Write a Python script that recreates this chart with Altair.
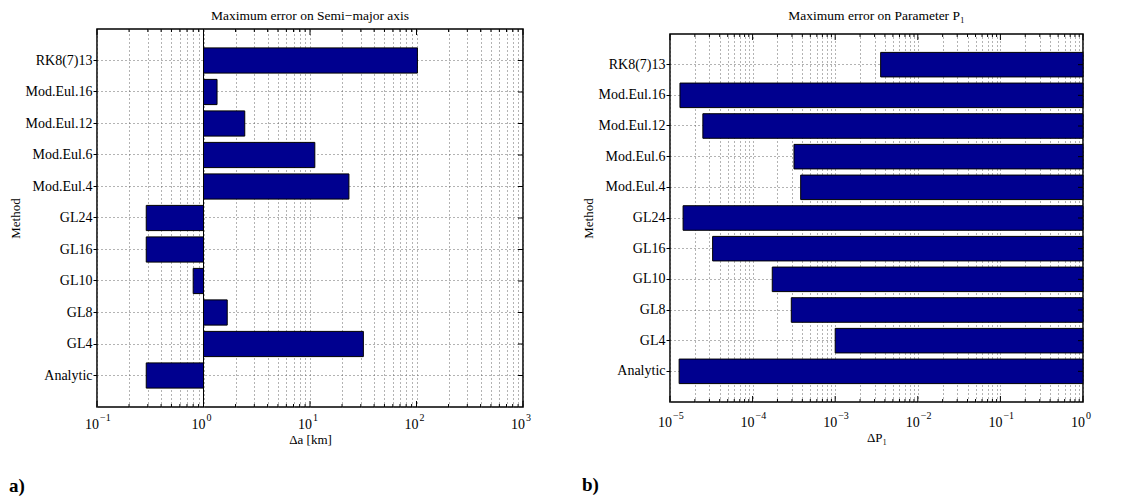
import altair as alt
import pandas as pd

# ---------------- data ----------------
methods_top_to_bottom = ["RK8(7)13", "Mod.Eul.16", "Mod.Eul.12", "Mod.Eul.6", "Mod.Eul.4",
                         "GL24", "GL16", "GL10", "GL8", "GL4", "Analytic"]
methods = ["Analytic", "GL4", "GL8", "GL10", "GL16", "GL24",
           "Mod.Eul.4", "Mod.Eul.6", "Mod.Eul.12", "Mod.Eul.16", "RK8(7)13"]
delta_a_km = [0.29, 31.7, 1.67, 0.80, 0.29, 0.29, 23.2, 11.1, 2.44, 1.34, 102.0]
delta_p1 = [1.29e-5, 1.0e-3, 2.94e-4, 1.73e-4, 3.28e-5, 1.44e-5,
            3.82e-4, 3.17e-4, 2.5e-5, 1.32e-5, 3.55e-3]
left_decades = [-1, 0, 1, 2, 3]
right_decades = [-5, -4, -3, -2, -1, 0]
bar_base = 1.0

FONT = "Liberation Serif"
BAR = "#00008f"


def panel(values, decades, title, xtitle, W, H, letter, letter_y, title_offset,
          label_off, xtitle_pad, baseline_rule):
    df = pd.DataFrame({"method": methods, "value": values, "base": bar_base})
    lo, hi = float(f"1e{decades[0]}"), float(f"1e{decades[-1]}")
    majors = [float(f"1e{e}") for e in decades]
    minors = [float(f"{k}e{e}") for e in decades[:-1] for k in range(2, 10)]
    grid_vals = sorted(majors + minors)
    xscale = alt.Scale(type="log", domain=[lo, hi], nice=False)
    yscale = alt.Scale(domain=methods_top_to_bottom, paddingInner=0.2, paddingOuter=0.6)

    xaxis = alt.Axis(values=grid_vals, labels=False, title=xtitle,
                     grid=True, gridDash=[1, 3], gridColor="#666", gridWidth=1,
                     ticks=False, domain=False,
                     titleFont=FONT, titleFontSize=13, titleFontWeight="normal",
                     titleColor="black", titlePadding=xtitle_pad)
    yaxis = alt.Axis(title="Method", grid=True, bandPosition=0.5,
                     gridDash=[1, 3], gridColor="#666", domain=False,
                     ticks=True, tickSize=4, tickColor="black", labelPadding=1,
                     labelFont=FONT, labelFontSize=14, labelColor="black",
                     titleFont=FONT, titleFontSize=13, titleFontWeight="normal",
                     titleColor="black", titlePadding=3)

    bars = alt.Chart(df).mark_bar(color=BAR, stroke="black", strokeWidth=1).encode(
        x=alt.X("value:Q", scale=xscale, axis=xaxis),
        x2="base:Q",
        y=alt.Y("method:N", scale=yscale, sort=methods_top_to_bottom, axis=yaxis),
    )
    layers = [bars]
    if baseline_rule:
        layers.append(alt.Chart(pd.DataFrame({"value": [bar_base]})).mark_rule(
            color="black", strokeWidth=1).encode(
            x=alt.X("value:Q", scale=xscale)))

    tick_major = pd.DataFrame({"value": majors})
    tick_minor = pd.DataFrame({"value": minors})
    for tdf, size in ((tick_major, 6), (tick_minor, 3)):
        layers.append(alt.Chart(tdf).mark_rule(color="black", strokeWidth=1).encode(
            x=alt.X("value:Q", scale=xscale),
            y=alt.value(H), y2=alt.value(H - size)))
        layers.append(alt.Chart(tdf).mark_rule(color="black", strokeWidth=1).encode(
            x=alt.X("value:Q", scale=xscale),
            y=alt.value(0), y2=alt.value(size)))
    ydf = pd.DataFrame({"method": methods})
    layers.append(alt.Chart(ydf).mark_rule(color="black", strokeWidth=1).encode(
        y=alt.Y("method:N", scale=yscale, sort=methods_top_to_bottom),
        x=alt.value(W - 5), x2=alt.value(W)))

    # tick labels: "10" with a raised exponent
    lab = pd.DataFrame({"value": majors, "base10": ["10"] * len(majors),
                        "exp": [str(e).replace("-", "\u2212") for e in decades]})
    layers.append(alt.Chart(lab).mark_text(
        font=FONT, fontSize=14, align="right", baseline="middle", dx=2,
        color="black").encode(x=alt.X("value:Q", scale=xscale), text="base10:N",
                              y=alt.value(H + label_off)))
    layers.append(alt.Chart(lab).mark_text(
        font=FONT, fontSize=10, align="left", baseline="middle", dx=3, dy=-7,
        color="black").encode(x=alt.X("value:Q", scale=xscale), text="exp:N",
                              y=alt.value(H + label_off)))

    layers.append(alt.Chart(pd.DataFrame({"t": [letter]})).mark_text(
        font=FONT, fontSize=19, fontWeight="bold", align="left", baseline="middle",
        color="black").encode(text="t:N", x=alt.value(-88), y=alt.value(letter_y)))

    return alt.layer(*layers).properties(
        width=W, height=H,
        title=alt.TitleParams(title, font=FONT, fontSize=13.5, fontWeight="normal",
                              color="black", offset=title_offset))


left = panel(delta_a_km, left_decades, "Maximum error on Semi\u2212major axis",
             "\u0394a [km]", 426, 378, "a)", 378 + 79, 6, 18, 26, True)
right = panel(delta_p1, right_decades, "Maximum error on Parameter P\u2081",
              "\u0394P\u2081", 413, 368, "b)", 368 + 83, 11, 21, 29, False)

chart = alt.hconcat(left, right, spacing=147, bounds="flush", center=True).properties(
    padding=0
).configure_view(stroke="black", strokeWidth=1.5).configure_axis(
    labelFont=FONT, titleFont=FONT
).configure_text(font=FONT)

chart.save("out.html", embed_options={"renderer": "svg", "actions": False})
